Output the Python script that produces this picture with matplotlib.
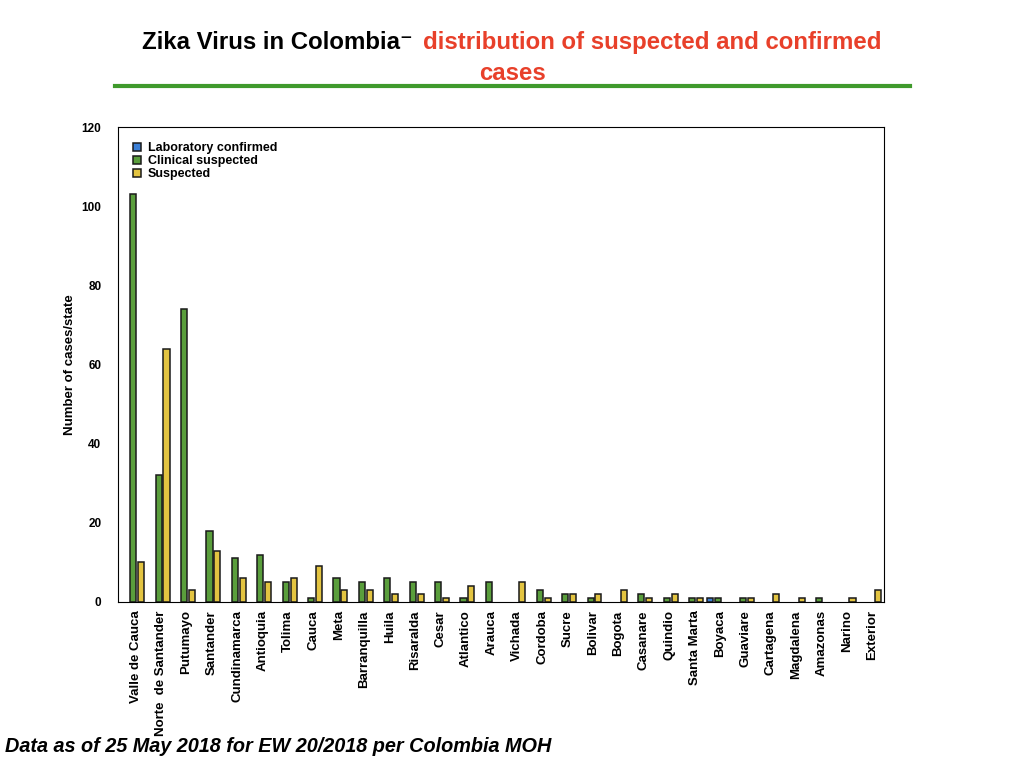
import numpy as np
import matplotlib.pyplot as plt
from matplotlib.lines import Line2D

plt.rcParams['font.family'] = ['Liberation Sans', 'DejaVu Sans']

states = ['Valle de Cauca', 'Norte  de Santander', 'Putumayo', 'Santander', 'Cundinamarca',
          'Antioquia', 'Tolima', 'Cauca', 'Meta', 'Barranquilla', 'Huila', 'Risaralda',
          'Cesar', 'Atlantico', 'Arauca', 'Vichada', 'Cordoba', 'Sucre', 'Bolivar', 'Bogota',
          'Casanare', 'Quindio', 'Santa Marta', 'Boyaca', 'Guaviare', 'Cartagena',
          'Magdalena', 'Amazonas', 'Narino', 'Exterior']
lab_confirmed = [0]*23 + [1] + [0]*6
clinical = [103, 32, 74, 18, 11, 12, 5, 1, 6, 5, 6, 5, 5, 1, 5, 0, 3, 2, 1, 0,
            2, 1, 1, 1, 1, 0, 0, 1, 0, 0]
suspected = [10, 64, 3, 13, 6, 5, 6, 9, 3, 3, 2, 2, 1, 4, 0, 5, 1, 2, 2, 3,
             1, 2, 1, 0, 1, 2, 1, 0, 1, 3]

fig = plt.figure(figsize=(10.24, 7.68), dpi=100)
ax = fig.add_axes([118/1024, 1-602/768, (884-118)/1024, (602-127)/768])

x = np.arange(len(states))
w = 0.24
step = 0.31
def draw(vals, off, color, label):
    v = np.array(vals, dtype=float)
    mask = v > 0
    ax.bar(x[mask] + off, v[mask], w, color=color, edgecolor='#1a1a1a', linewidth=1.1, label=label)

draw(lab_confirmed, -step, '#3b7fd6', 'Laboratory confirmed')
draw(clinical, 0, '#5a9e3c', 'Clinical suspected')
draw(suspected, step, '#e3c441', 'Suspected')

ax.set_xlim(-0.6, len(states) - 0.45)
ax.set_ylim(0, 120)
ax.set_yticks(range(0, 121, 20))
ax.set_xticks(x + 0.1)
ax.set_xticklabels(states, rotation=90, fontsize=9.5, fontweight='bold')
ax.tick_params(axis='x', length=0, pad=6)
ax.tick_params(axis='y', length=0, labelsize=8.5, pad=12)
for t in ax.get_yticklabels():
    t.set_fontweight('bold')
ax.set_ylabel('Number of cases/state', fontsize=9.5, fontweight='bold', labelpad=4)
ax.legend(loc='upper left', frameon=False, handlelength=0.6, handleheight=0.6,
          borderaxespad=0.8, labelspacing=0.1, handletextpad=0.6,
          prop={'weight': 'bold', 'size': 9})

fig.text(0.139, 0.945, 'Zika Virus in Colombia\u207b', fontsize=17.3, fontweight='bold', ha='left', va='center')
fig.text(0.413, 0.945, 'distribution of suspected and confirmed', fontsize=17.3, fontweight='bold',
         color='#e8402a', ha='left', va='center')
fig.text(0.5, 0.904, 'cases', fontsize=17.3, fontweight='bold', color='#e8402a', ha='center', va='center')
fig.add_artist(Line2D([115/1024, 910/1024], [1-86/768, 1-86/768], color='#3f9a2c', linewidth=3))
fig.text(0.005, 0.028, 'Data as of 25 May 2018 for EW 20/2018 per Colombia MOH', fontsize=14.3,
         fontweight='bold', style='italic', ha='left', va='center')

fig.savefig('out.png', dpi=100)
